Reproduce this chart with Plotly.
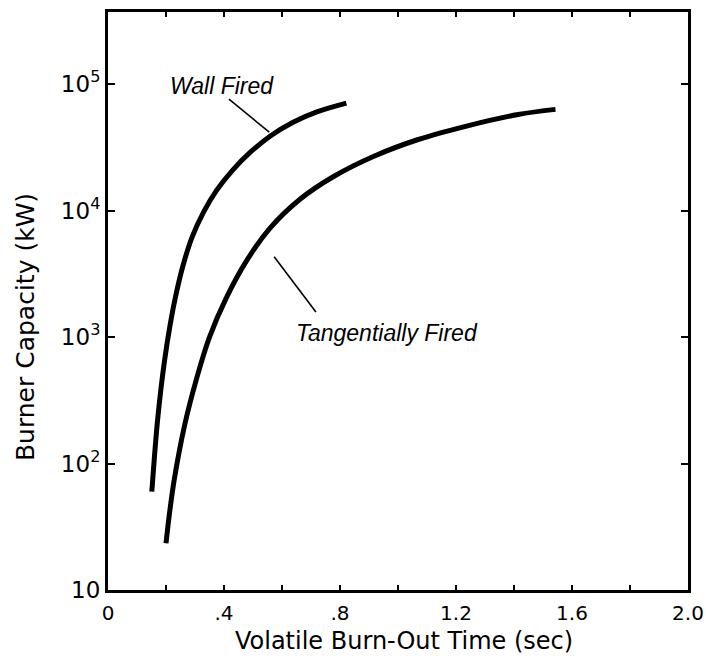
import math
import plotly.graph_objects as go

# Wall Fired curve: volatile burn-out time (s) vs burner capacity (kW)
wall_time = [0.151, 0.160, 0.170, 0.182, 0.196, 0.213, 0.233, 0.258, 0.290, 0.330,
             0.375, 0.430, 0.490, 0.560, 0.640, 0.720, 0.822]
wall_cap = [60, 112, 209, 380, 676, 1200, 2090, 3630, 6170, 9770,
            14500, 20900, 28800, 38900, 50100, 60300, 70800]

# Tangentially Fired curve
tang_time = [0.200, 0.213, 0.229, 0.264, 0.304, 0.350, 0.408, 0.477, 0.558, 0.662,
             0.778, 0.917, 1.067, 1.240, 1.414, 1.543]
tang_cap = [23.4, 42, 76, 200, 457, 1000, 2040, 3980, 7240, 12300,
            18600, 26900, 36300, 46800, 57500, 63100]

# Leader lines joining each label to its curve
wall_leader_time = [0.417, 0.556]
wall_leader_cap = [75900, 41700]
tang_leader_time = [0.573, 0.717]
tang_leader_cap = [4320, 1580]

# Curve labels: text, time, capacity
wall_label = ("Wall Fired", 0.392, 96600)
tang_label = ("Tangentially Fired", 0.962, 1080)

x_title = "Volatile Burn-Out Time (sec)"
y_title = "Burner Capacity (kW)"

x_tickvals = [0, 0.2, 0.4, 0.6, 0.8, 1.0, 1.2, 1.4, 1.6, 1.8, 2.0]
x_ticktext = ["0", "", ".4", "", ".8", "", "1.2", "", "1.6", "", "2.0"]
y_tickvals = [10, 100, 1000, 10000, 100000]
y_ticktext = ["10", "10<sup>2</sup>", "10<sup>3</sup>", "10<sup>4</sup>", "10<sup>5</sup>"]

AXFONT = "DejaVu Sans, Liberation Sans, sans-serif"
LBLFONT = "Liberation Sans, Arial, sans-serif"

fig = go.Figure()
for xs, ys, w in [(wall_time, wall_cap, 5), (tang_time, tang_cap, 5),
                  (wall_leader_time, wall_leader_cap, 1.6), (tang_leader_time, tang_leader_cap, 1.6)]:
    fig.add_trace(go.Scatter(x=xs, y=ys, mode="lines",
                             line=dict(color="black", width=w, shape="spline", smoothing=1.0),
                             showlegend=False, hoverinfo="skip"))

for text, x, y in [wall_label, tang_label]:
    fig.add_annotation(x=x, y=math.log10(y), text=f"<i>{text}</i>", showarrow=False,
                       font=dict(family=LBLFONT, size=23, color="black"),
                       xanchor="center", yanchor="middle")

# axis titles placed as paper annotations to match the reference positions
fig.add_annotation(xref="paper", yref="paper", x=-0.143, y=0.455, text=y_title, textangle=-90,
                   showarrow=False, xanchor="center", yanchor="middle",
                   font=dict(family=AXFONT, size=25, color="black"))
fig.add_annotation(xref="paper", yref="paper", x=0.510, y=-0.088, text=x_title,
                   showarrow=False, xanchor="center", yanchor="middle",
                   font=dict(family=AXFONT, size=24, color="black"))

fig.update_xaxes(range=[0, 2.0], tickvals=x_tickvals, ticktext=x_ticktext,
                 ticks="inside", ticklen=5, tickwidth=2, tickcolor="black",
                 showline=True, linecolor="black", linewidth=3, mirror="allticks",
                 showgrid=False, zeroline=False, automargin=False, ticklabelstandoff=3,
                 tickfont=dict(family=AXFONT, size=20, color="black"))
fig.update_yaxes(type="log", range=[1, 5.57], tickvals=y_tickvals, ticktext=y_ticktext,
                 ticks="inside", ticklen=7, tickwidth=2, tickcolor="black",
                 showline=True, linecolor="black", linewidth=3, mirror="allticks",
                 showgrid=False, zeroline=False, automargin=False,
                 tickfont=dict(family=AXFONT, size=23, color="black"))
fig.update_layout(width=706, height=661, margin=dict(l=108, r=18, t=12, b=71),
                  paper_bgcolor="white", plot_bgcolor="white")
fig.write_html("out.html", config={"displayModeBar": False},
               post_script="document.body.style.margin='0';"
                           "document.documentElement.style.overflow='hidden';")
